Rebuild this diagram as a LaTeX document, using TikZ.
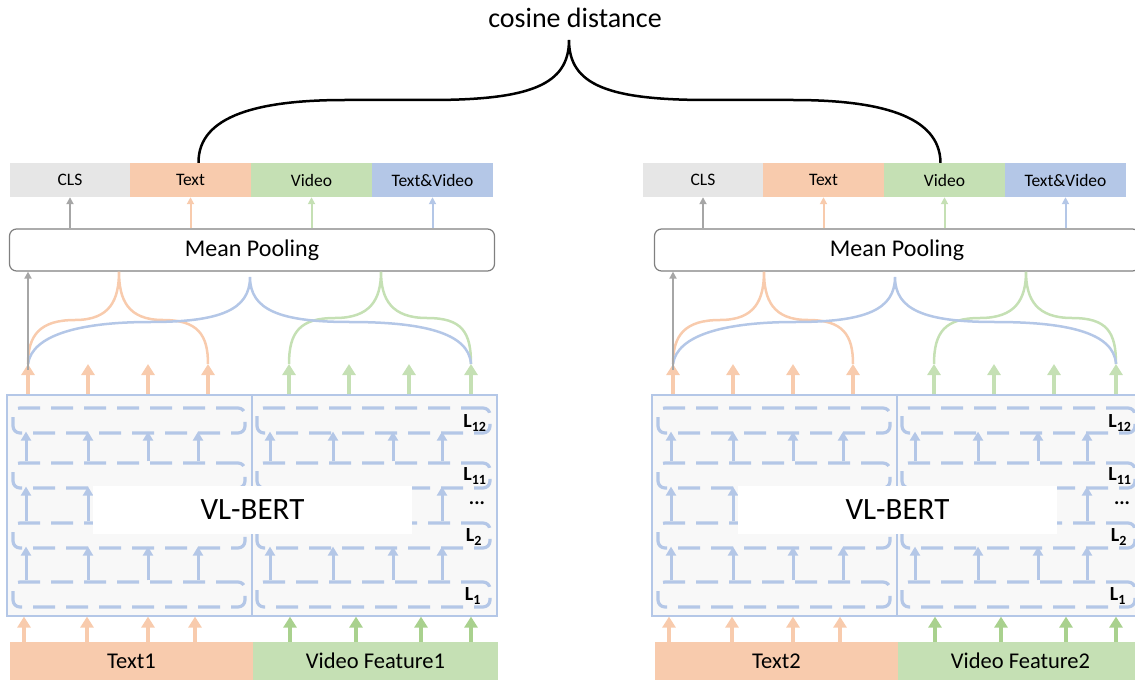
\documentclass[tikz,border=0pt]{standalone}
\usepackage{fontspec}
\setmainfont{Carlito}
\usetikzlibrary{arrows.meta,calc}

\definecolor{clsgray}{RGB}{230,230,230}
\definecolor{txtorange}{RGB}{248,203,173}
\definecolor{vidgreen}{RGB}{197,224,180}
\definecolor{ingreen}{RGB}{169,209,142}
\definecolor{tvblue}{RGB}{180,199,231}
\definecolor{arrgray}{RGB}{166,166,166}
\definecolor{bertfill}{RGB}{248,248,248}

\begin{document}
\begin{tikzpicture}[x=1pt,y=-1pt,
  outbox/.style={minimum width=121pt,minimum height=34pt,inner sep=0pt,font=\fontsize{17.5}{20}\selectfont},
  inbox/.style={minimum height=38pt,inner sep=0pt,font=\fontsize{22.5}{26}\selectfont},
  thinarr/.style={line width=2pt,-{Triangle[width=7pt,length=7pt]}},
  thickarr/.style={line width=4.5pt,-{Triangle[width=13pt,length=11pt]}},
  layerarr/.style={draw=tvblue,line width=3pt,-{Triangle[width=10pt,length=9pt]}},
  layer/.style={draw=tvblue,line width=3.2pt,dash pattern=on 22pt off 11pt,rounded corners=7pt,minimum height=25pt,inner sep=0pt},
  brace/.style={line width=2.5pt},
  tag/.style={font=\bfseries\fontsize{20}{22}\selectfont}]
  \useasboundingbox (0,0) rectangle (1135,682);
  \clip (0,0) rectangle (1135,682);

  \foreach \p/\d/\n in {0/0/1,645/-12/2}{
  \begin{scope}[xshift=\p pt]
    \node[outbox,fill=clsgray] (cls\n) at (\d+70,180) {CLS};
    \node[outbox,fill=txtorange] (txt\n) at (\d+190.5,180) {Text};
    \node[outbox,fill=vidgreen] (vid\n) at (\d+311.5,180) {Video};
    \node[outbox,fill=tvblue] (tv\n) at (\d+432.5,180) {Text\&Video};

    \node[draw=gray,rounded corners=7pt,line width=1.2pt,fill=white,minimum width=485pt,minimum height=42pt,
      font=\fontsize{24}{28}\selectfont] (mp\n) at (252,250) {Mean Pooling};
    \foreach \bx/\cl in {cls/arrgray,txt/txtorange,vid/vidgreen,tv/tvblue}
      \draw[thinarr,\cl] (mp\n.north -| \bx\n.south) -- (\bx\n.south);

    \node[draw=tvblue,line width=1.2pt,fill=bertfill,minimum width=490pt,minimum height=221pt,inner sep=0pt] (bert\n) at (252,505.5) {};
    \draw[tvblue,line width=1.2pt] (bert\n.north -| 252,0) -- (bert\n.south -| 252,0);

    \foreach \r/\y in {1/594.5,2/535.5,3/475.5,4/420.5}{
      \node[layer,minimum width=232pt] (la\n-\r) at (129,\y) {};
      \node[layer,minimum width=233pt] (lb\n-\r) at (373.5,\y) {};
    }
    \foreach \r/\s in {1/2,2/3,3/4}{
      \foreach \x in {26,88,148,198}
        \draw[layerarr,shorten >=-3pt] (la\n-\r.north -| \x,0) -- (la\n-\s.south -| \x,0);
      \foreach \x in {270,333,393,442}
        \draw[layerarr,shorten >=-3pt] (lb\n-\r.north -| \x,0) -- (lb\n-\s.south -| \x,0);
    }
    \node[fill=white,minimum width=319pt,minimum height=48pt,inner sep=0pt,font=\fontsize{31}{34}\selectfont] (vl\n) at (252.5,510) {VL-BERT};

    \node[tag] (l12\n) at (475,423) {L\textsubscript{12}};
    \node[tag] (l11\n) at (475,476) {L\textsubscript{11}};
    \node[tag] (ld\n) at (477,503) {...};
    \node[tag] (l2\n) at (474,537) {L\textsubscript{2}};
    \node[tag] (l1\n) at (473,596) {L\textsubscript{1}};

    \foreach \i/\x in {1/28,2/88,3/148,4/208}{
      \coordinate (to\n-\i) at (\x,364);
      \draw[thickarr,txtorange] (bert\n.north -| to\n-\i) -- (to\n-\i);
    }
    \foreach \i/\x in {1/289,2/349,3/409,4/471}{
      \coordinate (tg\n-\i) at (\x,364);
      \draw[thickarr,vidgreen] (bert\n.north -| tg\n-\i) -- (tg\n-\i);
    }

    \draw[brace,txtorange] (to\n-1) .. controls (28,335) and (40,320) .. (75,320)
      .. controls (110,320) and (119,300) .. (mp\n.south -| 119,0)
      .. controls (119,300) and (128,320) .. (163,320)
      .. controls (198,320) and (208,335) .. (to\n-4);
    \draw[brace,vidgreen] (tg\n-1) .. controls (289,332) and (300,318) .. (335,318)
      .. controls (370,318) and (381,300) .. (mp\n.south -| 381,0)
      .. controls (381,300) and (392,318) .. (427,318)
      .. controls (462,318) and (471,332) .. (tg\n-4);
    \draw[brace,tvblue] (to\n-1) .. controls (32,335) and (80,322) .. (150,322)
      .. controls (220,322) and (250,310) .. (250,277)
      .. controls (250,310) and (280,322) .. (350,322)
      .. controls (420,322) and (469,332) .. (tg\n-4);
    \draw[thinarr,arrgray] (to\n-1) ++(0,6) -- (mp\n.south -| to\n-1);

    \node[inbox,fill=txtorange,minimum width=243pt] (tin\n) at (131.5,661) {Text\n};
    \node[inbox,fill=vidgreen,minimum width=245pt] (vin\n) at (375.5,661) {Video Feature\n};
    \foreach \x in {24,87,148,195}
      \draw[thickarr,txtorange] (tin\n.north -| \x,0) -- (bert\n.south -| \x,0);
    \foreach \x in {290,356,421,471}
      \draw[thickarr,ingreen] (vin\n.north -| \x,0) -- (bert\n.south -| \x,0);
  \end{scope}
  }

  \coordinate (cd) at (569,40);
  \node[font=\fontsize{28}{32}\selectfont] (cosd) at (575,18) {cosine distance};
  \draw[brace,black] ([xshift=8pt]txt1.north) .. controls (198,115) and (260,100) .. (345,100) -- (430,100)
    .. controls (530,100) and (569,85) .. (cd)
    .. controls (569,85) and (608,100) .. (708,100) -- (793,100)
    .. controls (878,100) and (940,115) .. ([xshift=-4pt]vid2.north);
\end{tikzpicture}
\end{document}
